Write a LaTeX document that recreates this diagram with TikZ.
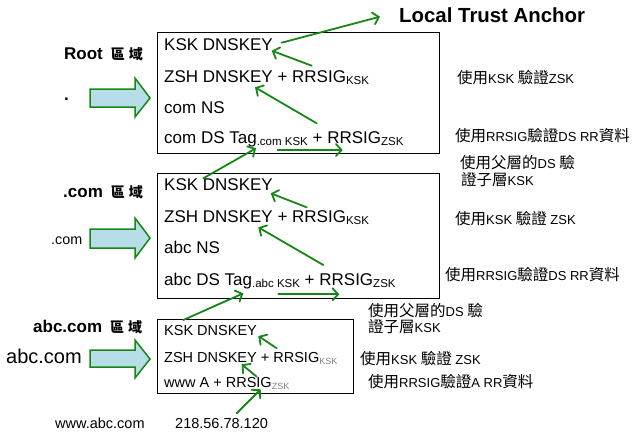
\documentclass[tikz,border=0pt]{standalone}
\usepackage{fontspec}
\setmainfont{Liberation Sans}
\newfontfamily\cjk{Noto Sans CJK TC}
\usetikzlibrary{arrows.meta}
\definecolor{arrgreen}{RGB}{22,135,22}
\definecolor{blockfill}{RGB}{183,222,232}
\newcommand{\myfs}[1]{\fontsize{#1}{#1}\selectfont}
\newcommand{\lowsub}[1]{\raisebox{-2.5pt}{\myfs{11.5}#1}}
\newcommand{\lowsubg}[1]{\raisebox{-2.5pt}{\color{gray}\myfs{9}#1}}
\newcommand{\zh}[1]{{\cjk\myfs{15.5}#1}}
\newcommand{\zhl}[1]{{\cjk\myfs{14}#1}}
\begin{document}
\begin{tikzpicture}[x=1pt,y=-1pt]
\tikzset{
  zonebox/.style={draw=black, line width=1.2pt, inner sep=0pt, anchor=north west},
  rec/.style={anchor=base west, inner sep=0pt, font=\myfs{17}},
  recsmall/.style={anchor=base west, inner sep=0pt, font=\myfs{14.5}},
  plain/.style={anchor=base west, inner sep=0pt},
  note/.style={anchor=base west, inner sep=0pt, font=\myfs{13}},
  zonelbl/.style={anchor=base west, inner sep=0pt, font=\bfseries\myfs{17}},
  chain/.style={draw=arrgreen, line width=1.8pt, line cap=round,
    -{Straight Barb[length=5.5pt,width=12pt,line cap=round]}},
  blockarrow/.style={draw=arrgreen, fill=blockfill, line width=1.5pt, line join=miter},
}
\useasboundingbox (0,0) rectangle (638,434);

% zone boxes
\node[zonebox, minimum width=282pt, minimum height=121pt] (rootbox) at (157,32) {};
\node[zonebox, minimum width=282pt, minimum height=125pt] (combox) at (157,173) {};
\node[zonebox, minimum width=196pt, minimum height=74pt] (abcbox) at (157,319) {};

% block arrows
\draw[blockarrow] (90,89)--(135,89)--(135,78)--(150,98)--(135,117)--(135,107)--(90,107)--cycle;
\draw[blockarrow] (90,229)--(135,229)--(135,218)--(150,238)--(135,258)--(135,248)--(90,248)--cycle;
\draw[blockarrow] (90,350)--(135,350)--(135,340)--(150,359)--(135,378)--(135,367)--(90,367)--cycle;

% root zone records
\node[rec] (r1) at (164,50) {KSK DNSKEY};
\node[rec] (r2) at (164,82) {ZSH DNSKEY + RRSIG\lowsub{KSK}};
\node[rec] (r3) at (164,113) {com NS};
\node[rec] (r4) at (164,143) {com DS Tag\lowsub{.com KSK} + RRSIG\lowsub{ZSK}};

% .com zone records
\node[rec] (c1) at (164,190) {KSK DNSKEY};
\node[rec] (c2) at (164,222) {ZSH DNSKEY + RRSIG\lowsub{KSK}};
\node[rec] (c3) at (164,253) {abc NS};
\node[rec] (c4) at (164,285) {abc DS Tag\lowsub{.abc KSK} + RRSIG\lowsub{ZSK}};

% abc.com zone records
\node[recsmall] (a1) at (164,335) {KSK DNSKEY};
\node[recsmall] (a2) at (164,362) {ZSH DNSKEY + RRSIG\lowsubg{KSK}};
\node[recsmall] (a3) at (164,387) {www A + RRSIG\lowsubg{ZSK}};

% left labels
\node[zonelbl] (rootlbl) at (64,59) {Root\hspace{8pt}\zhl{區\hspace{4pt}域}};
\node[zonelbl] (rootdot) at (64,100) {.};
\node[zonelbl] (comlbl) at (63,197) {.com\hspace{8pt}\zhl{區\hspace{4pt}域}};
\node[plain, font=\myfs{14.3}] (comname) at (51,244) {.com};
\node[zonelbl] (abclbl) at (33,332) {abc.com\hspace{8pt}\zhl{區\hspace{4pt}域}};
\node[plain, font=\myfs{20}] (abcname) at (6,363) {abc.com};
\node[plain, font=\myfs{14.5}] (wwwname) at (55,428) {www.abc.com};
\node[plain, font=\myfs{14.5}] (ipaddr) at (175,428) {218.56.78.120};
\node[plain, font=\bfseries\myfs{20.4}] (lta) at (399,22) {Local Trust Anchor};

% notes
\node[note] (n1) at (457,83) {\zh{使用}KSK \zh{驗證}ZSK};
\node[note] (n2) at (455,141.5) {\zh{使用}RRSIG\zh{驗證}DS RR\zh{資料}};
\node[note] (n3a) at (460,168) {\zh{使用父層的}DS \zh{驗}};
\node[note] (n3b) at (461,185) {\zh{證子層}KSK};
\node[note] (n4) at (455,224) {\zh{使用}KSK \zh{驗證} ZSK};
\node[note] (n5) at (445,280.7) {\zh{使用}RRSIG\zh{驗證}DS RR\zh{資料}};
\node[note] (n6a) at (368,316.7) {\zh{使用父層的}DS \zh{驗}};
\node[note] (n6b) at (368,332) {\zh{證子層}KSK};
\node[note] (n7) at (360,364) {\zh{使用}KSK \zh{驗證} ZSK};
\node[note] (n8) at (368,387.5) {\zh{使用}RRSIG\zh{驗證}A RR\zh{資料}};

% arrow end points
\coordinate (pa0) at (281.7,42.7);  \coordinate (pa1) at (380,16.7);
\coordinate (pb0) at (311.7,65.7);  \coordinate (pb1) at (271.7,50.7);
\coordinate (pc0) at (316.7,123.3); \coordinate (pc1) at (255,87.3);
\coordinate (pd0) at (277.7,150);   \coordinate (pd1) at (342.7,150);
\coordinate (pe0) at (203.3,178.3); \coordinate (pe1) at (256,148.3);
\coordinate (pf0) at (306.7,207.3); \coordinate (pf1) at (270.7,193.3);
\coordinate (pg0) at (323.3,265);   \coordinate (pg1) at (258.3,227.3);
\coordinate (ph0) at (278.3,294.3); \coordinate (ph1) at (339.3,294.3);
\coordinate (pi0) at (183.3,320);   \coordinate (pi1) at (243.3,293.3);
\coordinate (pj0) at (276.7,348.3); \coordinate (pj1) at (258.3,336);
\coordinate (pk0) at (256.7,376.7); \coordinate (pk1) at (241.7,364.3);
\coordinate (pl0) at (236.7,413.3); \coordinate (pl1) at (260.7,389.3);

\draw[chain] (pa0) -- (pa1);
\draw[chain] (pb0) -- (pb1);
\draw[chain] (pc0) -- (pc1);
\draw[chain] (pd0) -- (pd1);
\draw[chain] (pe0) -- (pe1);
\draw[chain] (pf0) -- (pf1);
\draw[chain] (pg0) -- (pg1);
\draw[chain] (ph0) -- (ph1);
\draw[chain] (pi0) -- (pi1);
\draw[chain] (pj0) -- (pj1);
\draw[chain] (pk0) -- (pk1);
\draw[chain] (pl0) -- (pl1);
\end{tikzpicture}
\end{document}
